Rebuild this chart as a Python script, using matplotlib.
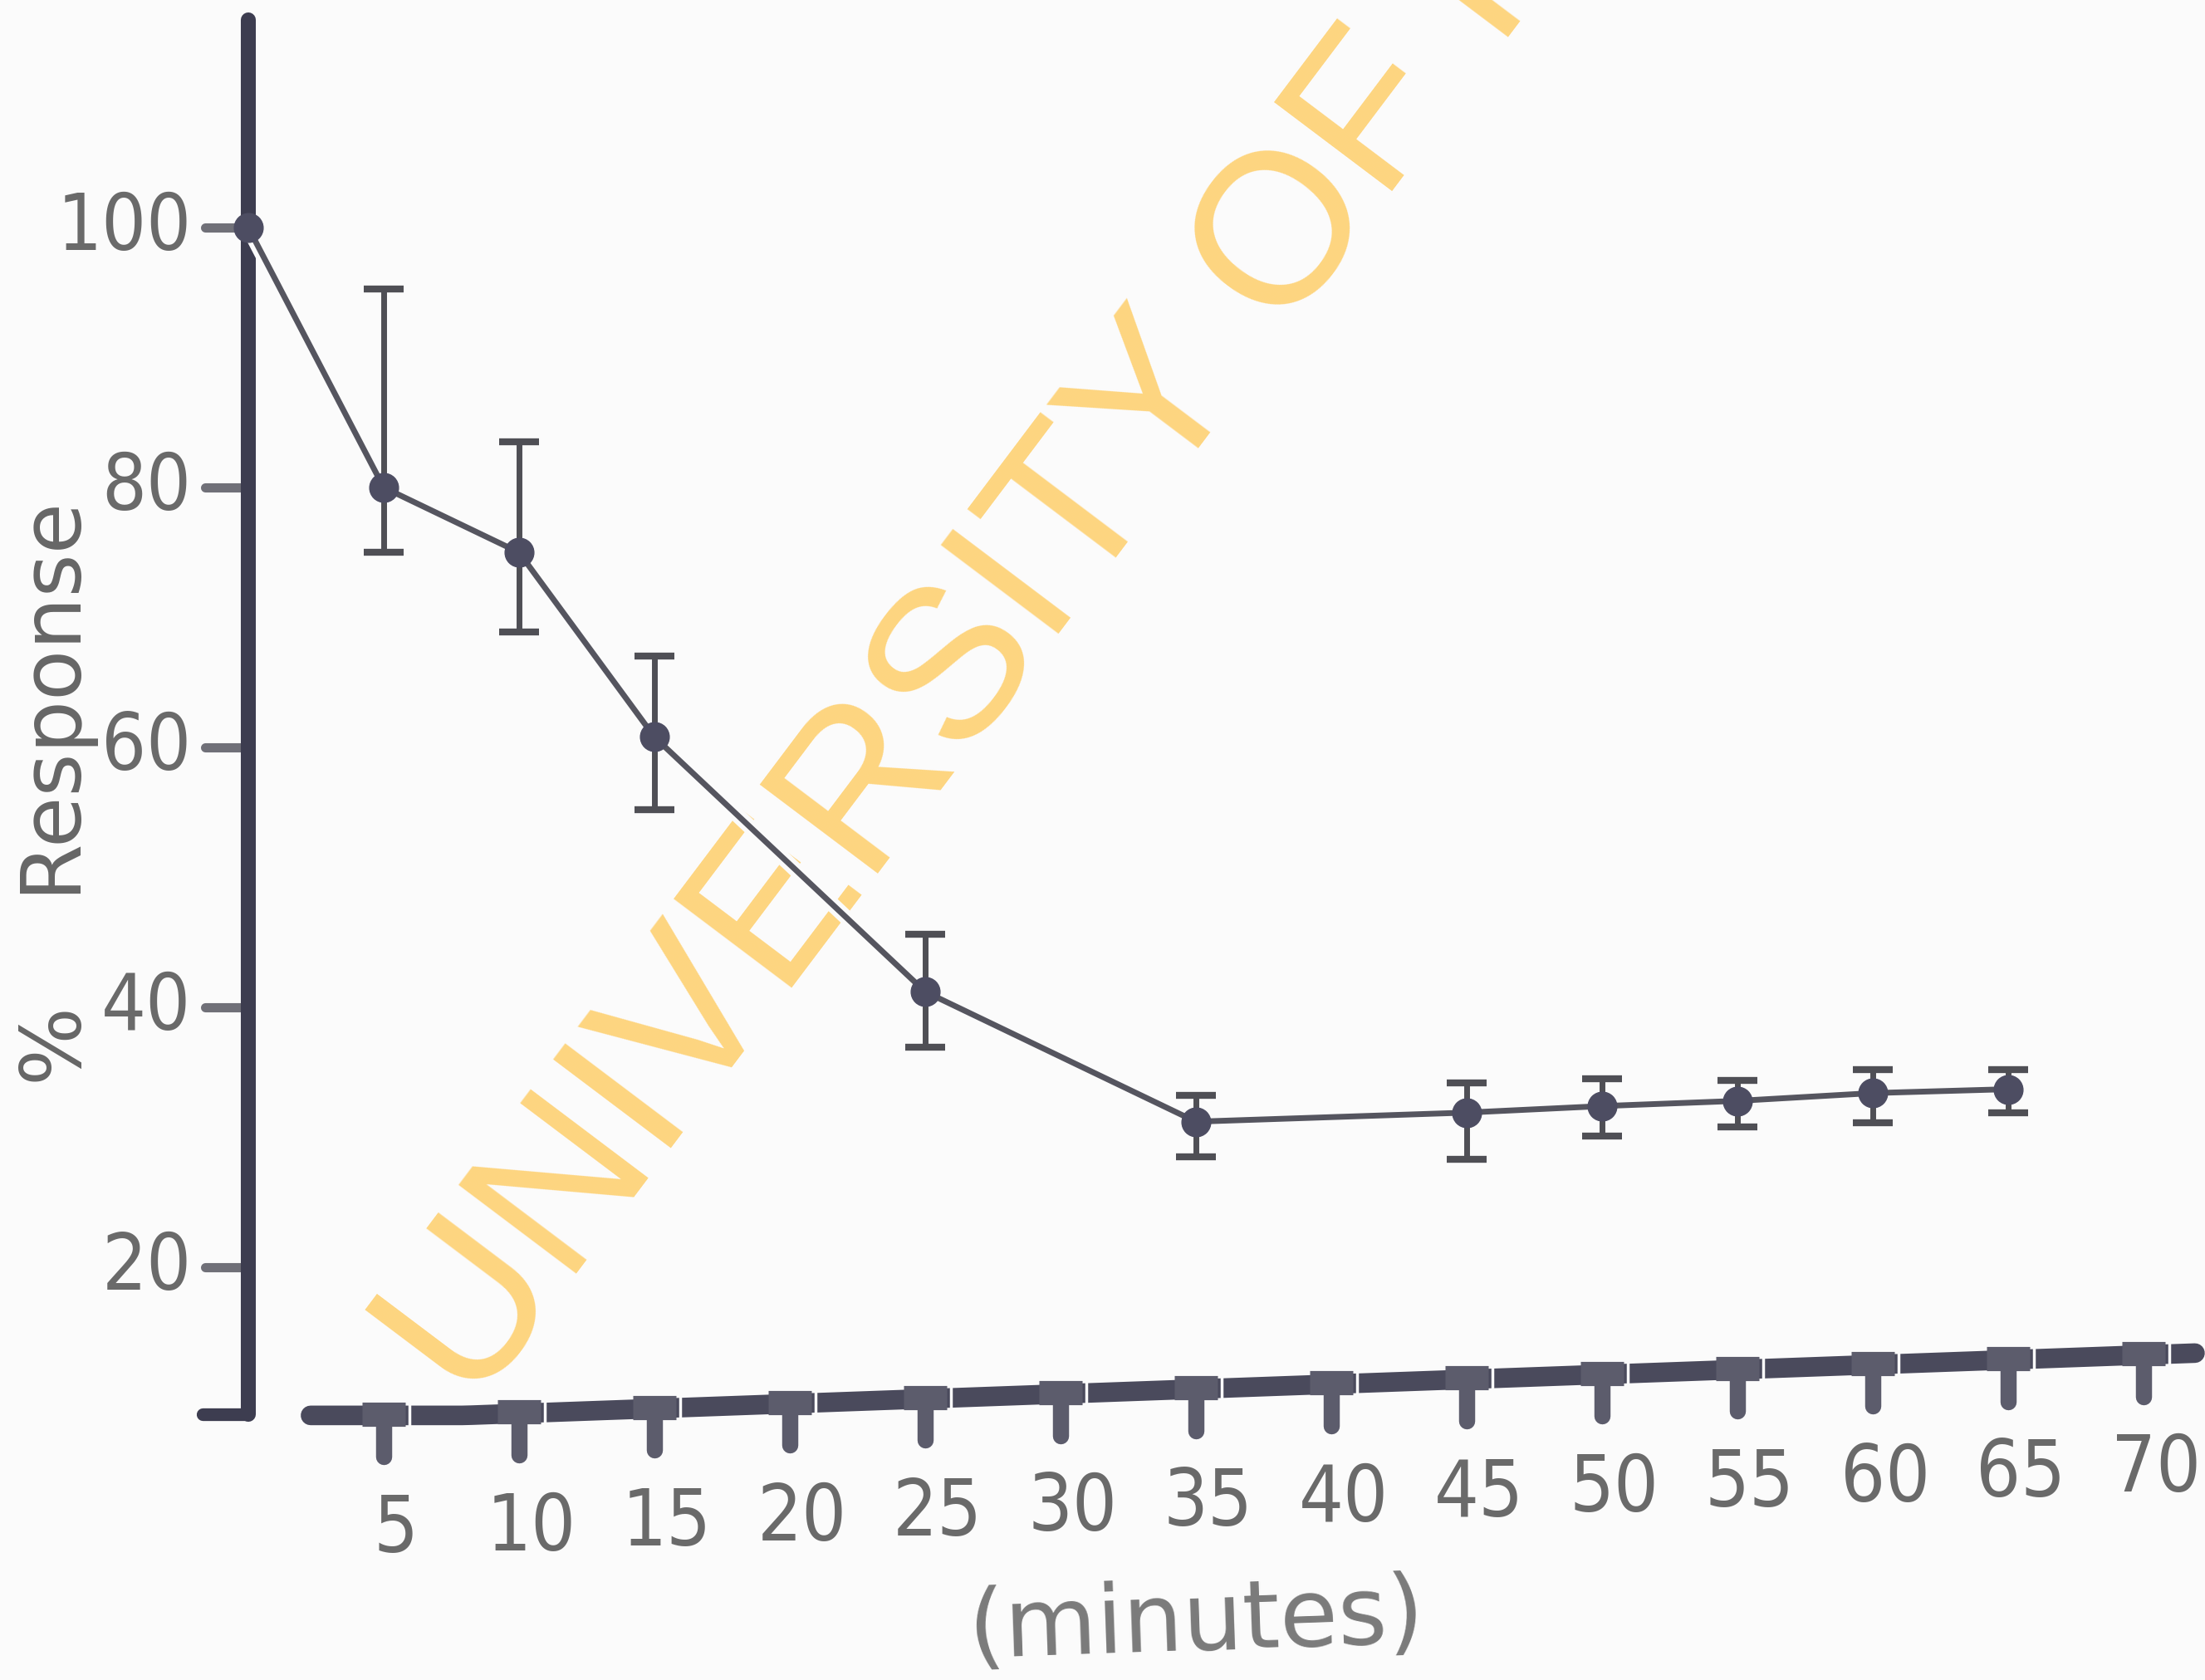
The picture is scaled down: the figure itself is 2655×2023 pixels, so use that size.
import matplotlib
matplotlib.use("Agg")
import matplotlib.pyplot as plt
import matplotlib.patheffects as pe
import numpy as np

# Recovery of the response after wash-out (mean with upper / lower limits)
minutes = [0, 5, 10, 15, 25, 35, 45, 50, 55, 60, 65]
response = [100, 80, 75, 60.8, 41.2, 31.2, 31.9, 32.4, 32.8, 33.4, 33.7]
err_upper = [0, 15.3, 8.5, 6.2, 4.4, 2.0, 2.3, 2.1, 1.6, 1.8, 1.5]
err_lower = [0, 5.0, 6.1, 5.6, 4.3, 2.7, 3.6, 2.3, 2.0, 2.3, 1.8]

x_ticks = [5, 10, 15, 20, 25, 30, 35, 40, 45, 50, 55, 60, 65, 70]
y_ticks = [20, 40, 60, 80, 100]

paper = '#fbfbfb'
ink = '#3d3d50'
tick_ink = '#5c5c6c'
label_ink = '#6a6a6a'
label_font = dict(family='DejaVu Sans', fontstretch='condensed', fontsize=68)

fig = plt.figure(figsize=(26.55, 20.24), dpi=100, facecolor=paper)
ax = fig.add_axes([0, 0, 1, 1])
ax.set_xlim(-9.17, 72.27)
ax.set_ylim(-11.76, 117.57)
ax.axis('off')
ax.set_facecolor(paper)

# watermark across the plot
ax.text(8.3, 9.0, 'UNIVERSITY OF IBADAN', family='Liberation Sans',
        fontsize=186, color='#fed580', rotation=53.0, rotation_mode='anchor',
        ha='left', va='baseline', zorder=1)

# y axis (drawn by hand, with a short foot at the bottom)
y_bottom = 8.7
ax.plot([0, 0], [y_bottom, 116], color=ink, lw=13, solid_capstyle='round', zorder=3)
ax.plot([-1.7, 0], [y_bottom, y_bottom], color=ink, lw=11, solid_capstyle='round', zorder=3)
for v in y_ticks:
    ax.plot([-1.6, 0], [v, v], color='#707078', lw=8, solid_capstyle='round', zorder=2)
    ax.text(-2.1, v, str(v), ha='right', va='center', color=label_ink, **label_font)


# x axis rises slightly to the right
def baseline(x):
    return y_bottom - 0.1 + 0.075 * np.maximum(np.asarray(x, dtype=float) - 8, 0)


xs = np.linspace(2.3, 71.9, 200)
ax.plot(xs, baseline(xs), color='#4a4a5c', lw=17, solid_capstyle='round', zorder=3)
for t in x_ticks:
    b = baseline(t)
    ax.plot([t - 0.8, t + 0.8], [b + 0.1, b + 0.1], color=tick_ink, lw=21,
            solid_capstyle='butt', zorder=4)
    ax.plot([t + 0.95, t + 0.95], [b - 0.9, b + 1.0], color=paper, lw=2.5, zorder=4)
    ax.plot([t, t], [b, b - 3.2], color=tick_ink, lw=14, solid_capstyle='round', zorder=4)
    ax.text(t + 0.45, b - 8.8, str(t), ha='center', va='center', color=label_ink,
            **label_font)

ax.text(35, -7.35, '(minutes)', ha='center', va='center', fontsize=82,
        color='#7a7a7a', rotation=2)
ax.text(-7.0, 56.5, '%    Response', ha='center', va='center', fontsize=72,
        color='#666666', rotation=90)

# data: connecting line, error bars and points
ax.plot(minutes, response, color='#55555f', lw=5, zorder=5,
        path_effects=[pe.Stroke(linewidth=13, foreground=paper), pe.Normal()])
ax.errorbar(minutes, response, yerr=[err_lower, err_upper], errorevery=(1, 1),
            fmt='none', ecolor='#4f4f55', elinewidth=5, capsize=17,
            capthick=6, zorder=6)
ax.plot(minutes, response, 'o', ms=25, color='#4d4d62', zorder=7)

fig.savefig('out.png', dpi=100, facecolor=paper)
